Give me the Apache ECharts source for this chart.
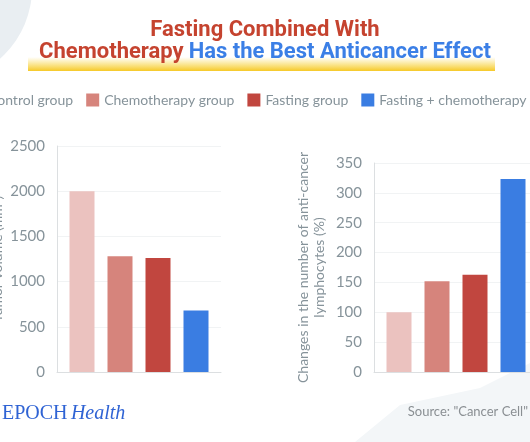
<!DOCTYPE html>
<html>
<head>
<meta charset="utf-8">
<script src="https://cdn.jsdelivr.net/npm/echarts@6/dist/echarts.min.js"></script>
<style>
html,body{margin:0;padding:0;background:#fff;}
#chart{width:530px;height:442px;}
</style>
</head>
<body>
<div id="chart"></div>
<script>
// ---- data ----
const groups = ['Control group', 'Chemotherapy group', 'Fasting group', 'Fasting + chemotherapy group'];
const groupColors = ['#ebc2bf', '#d6847c', '#c1463f', '#3a7de2'];
const tumorVolume = [2000, 1280, 1260, 680];          // mm³
const lymphocyteChange = [100, 152, 163, 323];        // %
const leftAxis = { min: 0, max: 2500, interval: 500, name: 'Tumor volume (mm³)' };
const rightAxis = { min: 0, max: 350, interval: 50, name: 'Changes in the number of anti-cancer\nlymphocytes (%)' };
const titleLine1 = 'Fasting Combined With';
const titleRed2 = 'Chemotherapy';
const titleBlue2 = 'Has the Best Anticancer Effect';
const sourceText = 'Source: "Cancer Cell"';

const FONT = 'Lato, "Noto Sans", sans-serif';
const TFONT = 'Roboto, Lato, sans-serif';
const gray = '#86939a';

const chart = echarts.init(document.getElementById('chart'), null, { renderer: 'canvas' });

function yAxisCfg(ax, gridIndex, nameGap) {
  return {
    type: 'value', gridIndex: gridIndex, min: ax.min, max: ax.max, interval: ax.interval,
    name: ax.name, nameLocation: 'middle', nameGap: nameGap, nameRotate: 90,
    nameTextStyle: { color: gray, fontSize: 14, fontFamily: FONT, lineHeight: 16 },
    axisLine: { show: true, lineStyle: { color: '#dcdfe1', width: 1 } },
    axisTick: { show: false },
    axisLabel: { color: gray, fontSize: 15, fontFamily: FONT, margin: 12, formatter: v => String(v) },
    splitLine: { show: true, lineStyle: { color: '#f1f3f4', width: 1 } }
  };
}
function xAxisCfg(gridIndex) {
  return {
    type: 'category', gridIndex: gridIndex, data: [''],
    axisLine: { show: true, lineStyle: { color: '#dcdfe1', width: 1 } },
    axisTick: { show: false }, axisLabel: { show: false }, splitLine: { show: false }
  };
}

const series = [];
groups.forEach((g, i) => {
  series.push({ name: g, type: 'bar', xAxisIndex: 0, yAxisIndex: 0, data: [tumorVolume[i]],
    barWidth: 25, barGap: '52%', itemStyle: { color: groupColors[i] } });
});
groups.forEach((g, i) => {
  series.push({ name: g, type: 'bar', xAxisIndex: 1, yAxisIndex: 1, data: [lymphocyteChange[i]],
    barWidth: 25, barGap: '52%', itemStyle: { color: groupColors[i] } });
});

const option = {
  backgroundColor: '#ffffff',
  animation: false,
  color: groupColors,
  title: {
    text: '{r|' + titleLine1 + '}\n{r|' + titleRed2 + '} {b|' + titleBlue2 + '}',
    left: 'center', top: 19, padding: 0,
    textStyle: {
      rich: {
        r: { color: '#c5432f', fontSize: 22, fontWeight: 'bold', fontFamily: TFONT, lineHeight: 22 },
        b: { color: '#3b7fe6', fontSize: 22, fontWeight: 'bold', fontFamily: TFONT, lineHeight: 22 }
      }
    }
  },
  legend: {
    data: groups, left: -30, top: 93, width: 700, padding: 0,
    icon: 'rect', itemWidth: 13, itemHeight: 13, itemGap: 13,
    textStyle: { color: gray, fontSize: 14, fontFamily: FONT },
    selectedMode: false
  },
  grid: [
    { left: 57, top: 146, width: 164, bottom: 70, containLabel: false, outerBoundsMode: 'none' },
    { left: 374, top: 163, width: 164, bottom: 70, containLabel: false, outerBoundsMode: 'none' }
  ],
  xAxis: [xAxisCfg(0), xAxisCfg(1)],
  yAxis: [yAxisCfg(leftAxis, 0, 52), yAxisCfg(rightAxis, 1, 47)],
  series: series,
  graphic: [
    { type: 'circle', shape: { cx: -62, cy: -12, r: 94 }, style: { fill: '#e9eef2' }, z: -10, silent: true },
    { type: 'polygon', shape: { points: [[355, 442], [400, 405], [480, 388], [540, 358], [540, 442]] },
      style: { fill: '#f3f6f8' }, z: -10, silent: true },
    { type: 'rect', shape: { x: 28, y: 57, width: 467, height: 14 },
      style: { fill: new echarts.graphic.LinearGradient(0, 0, 0, 1, [
        { offset: 0, color: 'rgba(248,214,60,0)' }, { offset: 1, color: '#f6c928' }]) },
      z: -5, silent: true },
    { type: 'text', left: 2, top: 404, silent: true,
      style: { text: '{a|EPOCH} {b|Health}',
        rich: {
          a: { fontFamily: '"Liberation Serif", "DejaVu Serif", serif', fontSize: 20, fill: '#2f63d4' },
          b: { fontFamily: '"Liberation Serif", "DejaVu Serif", serif', fontSize: 20, fontStyle: 'italic', fill: '#2f63d4' }
        } } },
    { type: 'text', right: 2, top: 405, silent: true,
      style: { text: sourceText, fontFamily: FONT, fontSize: 13, fill: '#8a8f93' } }
  ]
};
chart.setOption(option);
</script>
</body>
</html>
